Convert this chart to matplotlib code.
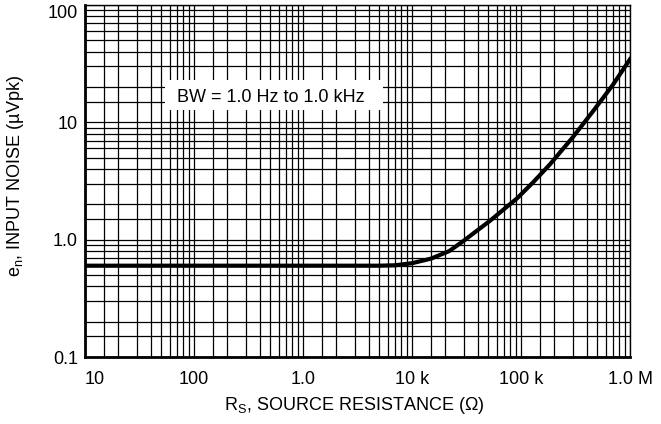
import matplotlib.pyplot as plt
from matplotlib.ticker import FixedLocator, FixedFormatter, NullFormatter
from matplotlib.patches import Rectangle

# source resistance (ohm) vs input noise (uVpk)
rs = [10, 1e3, 5e3, 7e3, 1e4, 1.5e4, 2.2e4, 2.9e4, 5.2e4, 9.2e4, 1.3e5, 1.85e5, 3e5, 4.6e5, 7e5, 1e6]
en = [0.6, 0.6, 0.6, 0.605, 0.63, 0.69, 0.8, 0.96, 1.45, 2.25, 3.1, 4.4, 7.5, 12.5, 21, 34.5]

x_ticks = [10, 100, 1e3, 1e4, 1e5, 1e6]
x_labels = ['10', '100', '1.0', '10 k', '100 k', '1.0 M']
y_ticks = [0.1, 1, 10, 100]
y_labels = ['0.1', '1.0', '10', '100']
grid_mults = [1.5, 2, 3, 4, 5, 6, 7, 8, 9]

plt.rcParams['font.family'] = ['Liberation Sans', 'DejaVu Sans']

fig = plt.figure(figsize=(6.61, 4.24), dpi=100)
ax = fig.add_axes([85/661, 67/424, 545/661, 352/424])
ax.set_xscale('log')
ax.set_yscale('log')
ax.set_xlim(10, 1e6)
ax.set_ylim(0.1, 100)

ax.plot(rs, en, color='black', lw=3, zorder=3, solid_joinstyle='round')

# grid at 1, 1.5, 2 ... 9 of each decade
x_minor = [d * m for d in x_ticks[:-1] for m in grid_mults]
y_minor = [d * m for d in y_ticks[:-1] for m in grid_mults]
ax.xaxis.set_major_locator(FixedLocator(x_ticks))
ax.xaxis.set_major_formatter(FixedFormatter(x_labels))
ax.xaxis.set_minor_locator(FixedLocator(x_minor))
ax.xaxis.set_minor_formatter(NullFormatter())
ax.yaxis.set_major_locator(FixedLocator(y_ticks))
ax.yaxis.set_major_formatter(FixedFormatter(y_labels))
ax.yaxis.set_minor_locator(FixedLocator(y_minor))
ax.yaxis.set_minor_formatter(NullFormatter())
ax.set_axisbelow(True)
ax.grid(which='both', color='black', lw=0.9)
ax.tick_params(which='both', length=0, labelsize=13)
ax.tick_params(axis='x', pad=10)
ax.tick_params(axis='y', pad=5)
# keep the end labels inside the figure
ax.get_xticklabels()[0].set_ha('left')
ax.get_yticklabels()[-1].set_va('top')

for s in ['left', 'bottom']:
    ax.spines[s].set_linewidth(2)
for s in ['top', 'right']:
    ax.spines[s].set_linewidth(1)

# white box behind the bandwidth note
ax.add_patch(Rectangle((0.147, 0.703), 0.40, 0.085, transform=ax.transAxes,
                       facecolor='white', edgecolor='none', zorder=2))
ax.text(0.169, 0.737, 'BW = 1.0 Hz to 1.0 kHz', transform=ax.transAxes,
        ha='left', va='center', fontsize=13, zorder=4)

ax.set_xlabel('R$_\\mathregular{S}$, SOURCE RESISTANCE (Ω)', fontsize=13)
ax.xaxis.set_label_coords(0.494, -0.108)
ax.set_ylabel('e$_\\mathregular{n}$, INPUT NOISE (µVpk)', fontsize=13)
ax.yaxis.set_label_coords(-0.128, 0.514)
ax.yaxis.label.set_va('center')

fig.savefig('out.png', dpi=100)
